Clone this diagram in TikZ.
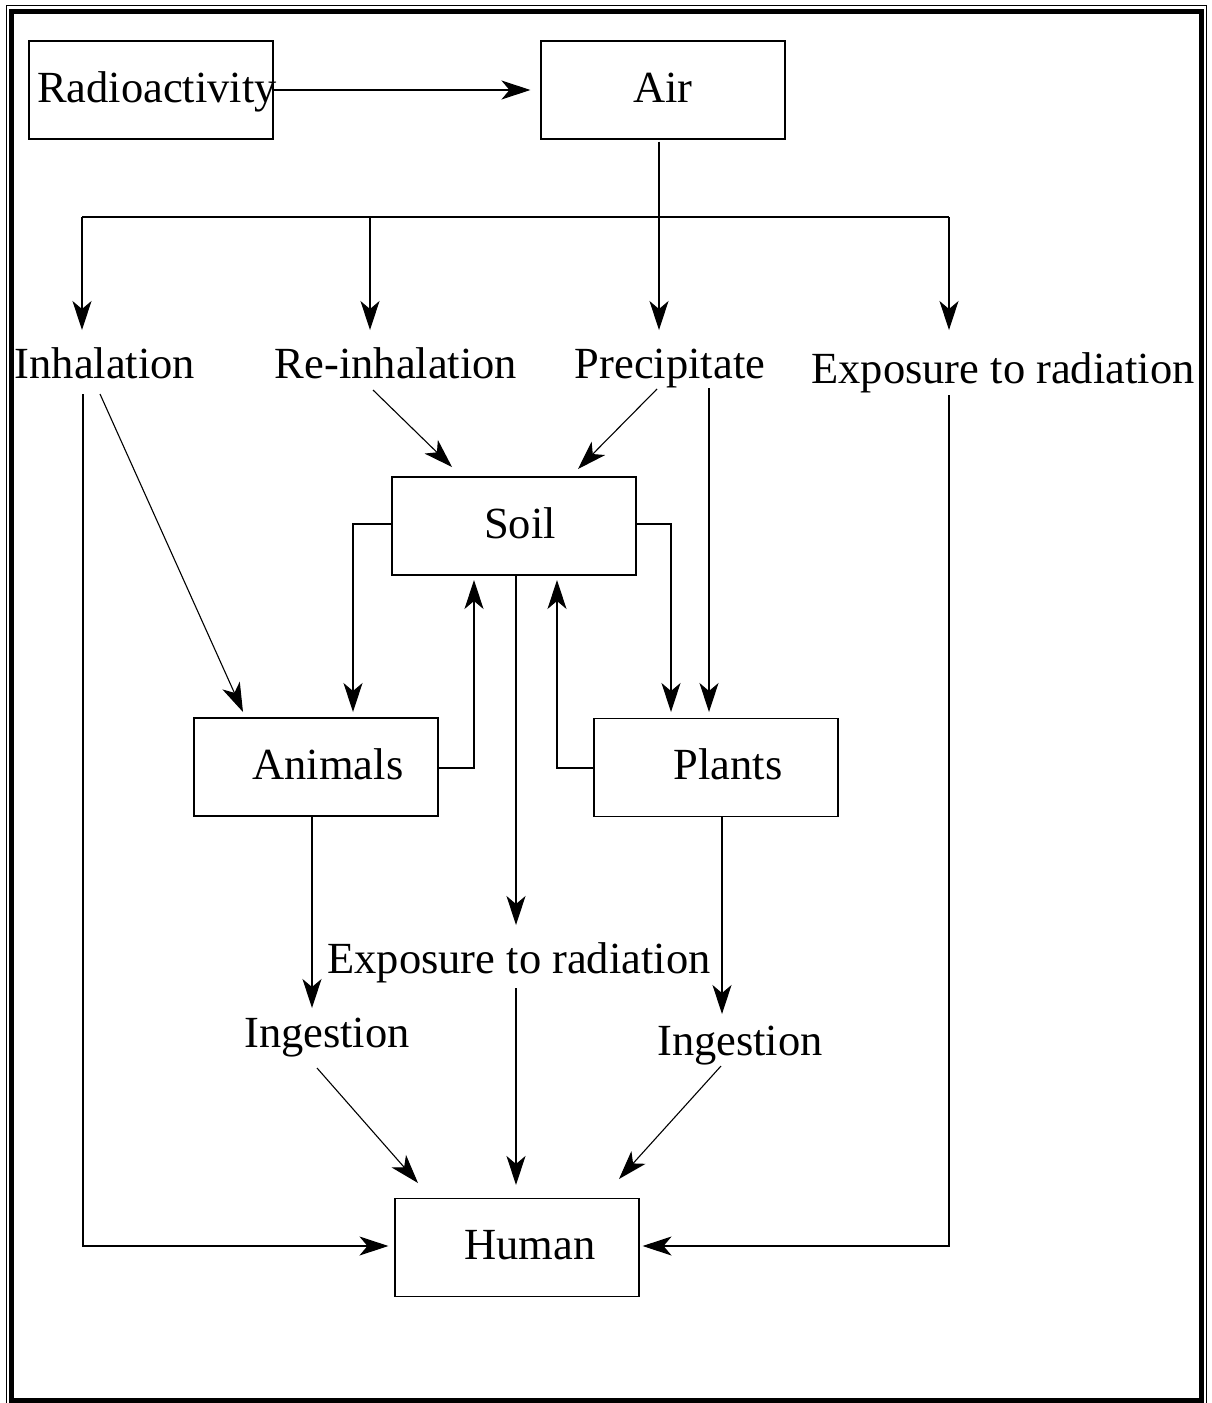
\documentclass[tikz,border=0pt]{standalone}
\usepackage{fontspec}
\setmainfont{Liberation Serif}
\usetikzlibrary{arrows.meta,calc}
\tikzset{
  box/.style={draw,line width=1.1pt,minimum width=244pt,minimum height=98pt,inner sep=0pt,
    font=\fontsize{44.5}{50}\selectfont,text height=31pt,text depth=7pt},
  lbl/.style={inner sep=0pt,font=\fontsize{44.5}{50}\selectfont,text height=31pt,text depth=7pt},
  conn/.style={line width=1.1pt,-{Stealth[length=29pt,width=19pt,inset=8pt]}},
  plain/.style={line width=1.1pt}
}
\begin{document}
\begin{tikzpicture}[x=1pt,y=-1pt]
\useasboundingbox (0,0) rectangle (1211,1403);
\clip (0,0) rectangle (1211,1403);
\fill[white] (0,0) rectangle (1211,1403);
% frame
\draw[line width=1pt] (6.5,5.5) rectangle (1206.5,1410);
\draw[line width=5pt] (11.5,11.5) rectangle (1201.5,1400.5);
% boxes
\node[box] (rad) at (151,90) {\makebox[244pt][l]{\hspace*{8pt}Radioactivity}};
\node[box] (air) at (663,90) {Air};
\node[box] (soil) at (514,526) {\hspace*{12pt}Soil};
\node[box] (animals) at (316,767) {\hspace*{24pt}Animals};
\node[box] (plants) at (716,767.5) {\hspace*{24pt}Plants};
\node[box] (human) at (517,1247.5) {\hspace*{26pt}Human};
% labels
\node[lbl] (inh) at (105,366) {Inhalation};
\node[lbl] (reinh) at (396,366) {Re-inhalation};
\node[lbl] (prec) at (670,366) {Precipitate};
\node[lbl] (expR) at (1003,371) {Exposure to radiation};
\node[lbl] (expM) at (519,961) {Exposure to radiation};
\node[lbl] (ingL) at (327,1035) {Ingestion};
\node[lbl] (ingR) at (740,1043) {Ingestion};
% coordinates
\coordinate (busL) at (82,217);
\coordinate (busR) at (949,217);
\coordinate (tInh) at ($(inh.center)+(-23,-36)$);
\coordinate (tReinh) at ($(reinh.center)+(-26,-36)$);
\coordinate (tPrec) at ($(prec.center)+(-11,-36)$);
\coordinate (tExpR) at ($(expR.center)+(-54,-41)$);
% top
\draw[conn] (rad.east) -- ($(air.west)+(-10,0)$);
\draw[plain] (busL) -- (busR);
\draw[conn] ($(air.south)+(-4,2)$) -- (tPrec);
\draw[conn] (busL) -- (tInh);
\draw[conn] (busL -| tReinh) -- (tReinh);
\draw[conn] (busR) -- (tExpR);
% to soil
\draw[conn] ($(reinh.center)+(-23,24)$) -- ($(soil.center)+(-62,-59)$);
\draw[conn] ($(prec.center)+(-13,23)$) -- ($(soil.center)+(64,-57)$);
% to plants
\draw[conn] ($(prec.center)+(39,22)$) -- ($(plants.center)+(-7,-55.5)$);
\draw[conn] ($(soil.east)+(0,-2)$) -| ($(plants.center)+(-45,-55.5)$);
% soil <-> animals / plants
\draw[conn] ($(soil.west)+(0,-2)$) -| ($(animals.center)+(37,-55)$);
\draw[conn] ($(animals.east)+(0,1)$) -| ($(soil.center)+(-40,54)$);
\draw[conn] ($(plants.west)+(0,0.5)$) -| ($(soil.center)+(43,54)$);
% soil -> exposure middle
\draw[conn] ($(soil.south)+(2,0)$) -- ($(expM.center)+(-3,-36)$);
% inhalation
\draw[conn] ($(inh.center)+(-5,28)$) -- ($(animals.center)+(-73,-55)$);
\draw[conn] ($(inh.center)+(-22,28)$) |- ($(human.west)+(-6,-1.5)$);
\draw[conn] ($(expR.center)+(-54,24)$) |- ($(human.east)+(3,-1.5)$);
% ingestion
\draw[conn] ($(animals.south)+(-4,0)$) -- ($(ingL.center)+(-15,-27)$);
\draw[conn] ($(plants.south)+(6,0)$) -- ($(ingR.center)+(-18,-29)$);
\draw[conn] ($(expM.center)+(-3,27)$) -- ($(human.north)+(-1,-13)$);
\draw[conn] ($(ingL.center)+(-10,33)$) -- ($(human.center)+(-99,-64.5)$);
\draw[conn] ($(ingR.center)+(-19,23)$) -- ($(human.center)+(102,-68.5)$);
\end{tikzpicture}
\end{document}
